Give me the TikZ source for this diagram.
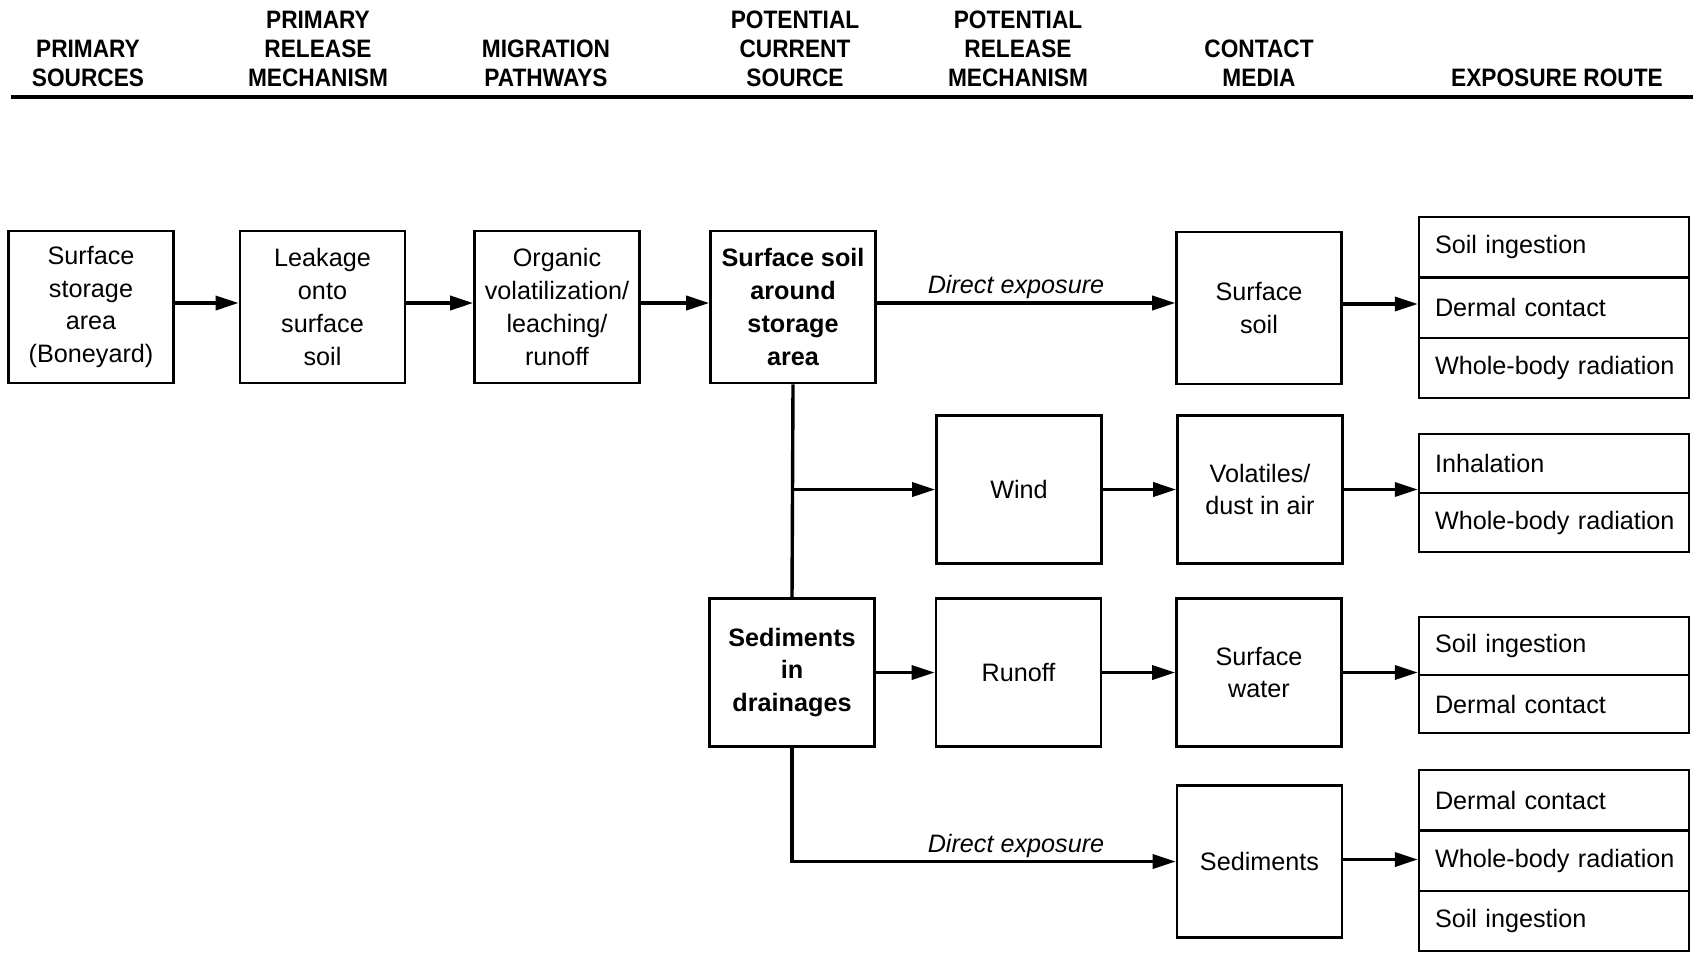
\documentclass[tikz,border=0pt]{standalone}
\usepackage{fontspec}
\setmainfont{Liberation Sans}
\newfontfamily\hdrfont[FakeStretch=0.9]{Liberation Sans}
\usetikzlibrary{arrows.meta}
\begin{document}
\begin{tikzpicture}[x=0.5pt,y=-0.5pt,
  txt/.style={font=\fontsize{12.6}{16.4}\selectfont},
  hdr/.style={font=\hdrfont\bfseries\fontsize{12.6}{14.5}\selectfont, align=center, anchor=south, inner sep=0pt},
  box/.style={txt, draw, line width=1.3pt, minimum width=82.5pt, minimum height=74pt, align=center, inner sep=2pt},
  tallbox/.style={box, minimum height=76pt},
  boldbox/.style={box, font=\bfseries\fontsize{12.6}{16.4}\selectfont},
  cell/.style={txt, draw, line width=1.1pt, minimum width=135pt, text width=119pt, inner xsep=8pt, inner ysep=0pt, align=left, anchor=north},
  flow/.style={line width=1.7pt, -{Triangle[length=11.5pt,width=7pt]}},
  wire/.style={line width=1.7pt},
  lbl/.style={font=\itshape\fontsize{12.6}{16.4}\selectfont, anchor=base, inner sep=0pt}
]
\useasboundingbox (0,0) rectangle (1695,952);

% column headings
\node[hdr] (h1) at (88,87)   {PRIMARY\\SOURCES};
\node[hdr] (h2) at (318,87)  {PRIMARY\\RELEASE\\MECHANISM};
\node[hdr] (h3) at (546,87)  {MIGRATION\\PATHWAYS};
\node[hdr] (h4) at (795,87)  {POTENTIAL\\CURRENT\\SOURCE};
\node[hdr] (h5) at (1018,87) {POTENTIAL\\RELEASE\\MECHANISM};
\node[hdr] (h6) at (1259,87) {CONTACT\\MEDIA};
\node[hdr] (h7) at (1557,87) {EXPOSURE ROUTE};
\draw[line width=2pt] (11,97) -- (1693,97);

% first row: sources and release
\node[tallbox] (b1) at (91,307)    {Surface\\storage\\area\\(Boneyard)};
\node[tallbox] (b2) at (322.5,307) {Leakage\\onto\\surface\\soil};
\node[tallbox] (b3) at (557,307)   {Organic\\volatilization/\\leaching/\\runoff};
\node[tallbox, font=\bfseries\fontsize{12.6}{16.4}\selectfont] (b4) at (793,307) {Surface soil\\around\\storage\\area};
\node[tallbox] (cs) at (1259,308)  {Surface\\soil};

% release mechanisms and contact media
\node[box] (wind) at (1019,489.5)   {Wind};
\node[box] (vd)   at (1260,489.5)   {Volatiles/\\dust in air};
\node[boldbox] (sd) at (792,672.5)  {Sediments\\in\\drainages};
\node[box] (run)  at (1018.5,672.5) {Runoff};
\node[box] (sw)   at (1259,672.5)   {Surface\\water};
\node[tallbox] (sed) at (1259.5,861.5) {Sediments};

% exposure routes
\node[cell, minimum height=30.17pt] (e1a) at (1554,216)   {Soil ingestion};
\node[cell, minimum height=30.17pt] (e1b) at (1554,276.3) {Dermal contact};
\node[cell, minimum height=30.17pt] (e1c) at (1554,336.7) {\mbox{Whole-body radiation}};

\node[cell, minimum height=29.5pt] (e2a) at (1554,433) {Inhalation};
\node[cell, minimum height=29.5pt] (e2b) at (1554,492) {\mbox{Whole-body radiation}};

\node[cell, minimum height=29pt] (e3a) at (1554,616) {Soil ingestion};
\node[cell, minimum height=29pt] (e3b) at (1554,674) {Dermal contact};

\node[cell, minimum height=30.17pt] (e4a) at (1554,769)   {Dermal contact};
\node[cell, minimum height=30.17pt] (e4b) at (1554,829.3) {\mbox{Whole-body radiation}};
\node[cell, minimum height=30.17pt] (e4c) at (1554,889.7) {Soil ingestion};

% connectors
\draw[flow] ([yshift=2pt]b1.east) -- ([yshift=2pt]b2.west);
\draw[flow] ([yshift=2pt]b2.east) -- ([yshift=2pt]b3.west);
\draw[flow] ([yshift=2pt]b3.east) -- ([yshift=2pt]b4.west);
\draw[flow] ([yshift=2pt]b4.east) -- ([yshift=2pt]b4.east -| cs.west);
\node[lbl] (de1) at (1016,293) {Direct exposure};
\draw[flow] ([yshift=2pt]cs.east) -- ([yshift=2pt]cs.east -| e1b.west);

\draw[wire] (b4.south) -- (sd.north);
\coordinate (fork) at (b4.south |- wind.west);
\draw[flow] (fork) -- (wind.west);
\draw[flow] (wind) -- (vd);
\draw[flow] (vd.east) -- (vd.east -| e2a.west);

\draw[flow] (sd) -- (run);
\draw[flow] (run) -- (sw);
\draw[flow] (sw.east) -- (sw.east -| e3a.west);

\draw[flow] (sd.south) |- (sed.west);
\node[lbl] (de2) at (1016,852) {Direct exposure};
\draw[flow] ([yshift=1pt]sed.east) -- ([yshift=1pt]sed.east -| e4b.west);
\end{tikzpicture}
\end{document}
